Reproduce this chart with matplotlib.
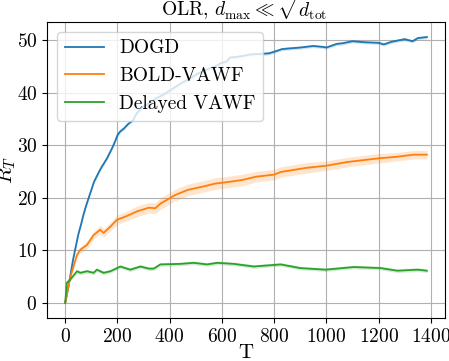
import matplotlib
matplotlib.use("Agg")
import numpy as np
import matplotlib.pyplot as plt

plt.rcParams["font.family"] = "serif"
plt.rcParams["font.serif"] = ["cmr10"]
plt.rcParams["mathtext.fontset"] = "cm"
plt.rcParams["axes.formatter.use_mathtext"] = True

# Values
dogd_t = [0, 10, 20, 30, 40, 50, 60, 70, 80, 90, 100, 110, 120, 130, 140, 150, 160, 170,
          180, 190, 200, 210, 225, 240, 260, 275, 300, 325, 350, 375, 400, 425, 450, 475,
          505, 530, 550, 575, 595, 620, 630, 652, 680, 710, 750, 780, 800, 830, 850, 900,
          950, 990, 1000, 1040, 1060, 1100, 1150, 1200, 1220, 1250, 1280, 1300, 1330,
          1350, 1385]
dogd_v = [0, 2.5, 5.3, 8.2, 10.6, 13.0, 14.8, 16.8, 18.5, 20.0, 21.5, 23.0, 24.0, 25.0,
          25.9, 26.7, 27.5, 28.5, 29.5, 30.6, 31.9, 32.6, 33.2, 34.0, 34.8, 36.2, 37.4,
          38.1, 39.0, 39.6, 40.4, 41.2, 42.0, 42.6, 43.6, 44.1, 44.6, 45.0, 45.6, 46.0,
          46.7, 46.8, 47.0, 47.3, 47.4, 47.5, 47.8, 48.3, 48.4, 48.6, 48.9, 48.7, 48.6,
          49.3, 49.4, 49.8, 49.6, 49.5, 49.2, 49.7, 50.0, 50.2, 49.8, 50.4, 50.6]
dogd_err = 0.3

bold_t = [0, 20, 45, 58, 83, 109, 134, 147, 173, 198, 230, 275, 320, 345, 365, 400, 420,
          470, 525, 575, 625, 680, 730, 800, 825, 925, 1000, 1080, 1200, 1270, 1335, 1385]
bold_v = [0, 5.0, 9.1, 10.1, 11.0, 12.9, 13.9, 13.3, 14.5, 15.8, 16.4, 17.4, 18.1, 18.0,
          18.9, 19.9, 20.5, 21.5, 22.1, 22.7, 23.0, 23.4, 24.0, 24.4, 24.9, 25.7, 26.1,
          26.8, 27.5, 27.8, 28.2, 28.2]
bold_err = [0, 0.3, 0.5, 0.6, 0.7, 0.7, 0.8, 0.8, 0.8, 0.9, 0.9, 1.0, 1.0, 1.0, 1.1, 1.1,
            1.1, 1.1, 1.1, 1.1, 1.1, 1.1, 1.0, 1.0, 1.0, 1.0, 0.9, 0.9, 0.9, 0.8, 0.8, 0.8]

vawf_t = [0, 6, 19, 32, 45, 58, 83, 109, 121, 147, 173, 211, 249, 288, 320, 339, 364,
          441, 492, 543, 582, 646, 722, 825, 900, 997, 1105, 1208, 1272, 1349, 1385]
vawf_v = [0, 3.8, 4.4, 5.2, 6.0, 5.7, 6.0, 5.7, 6.3, 5.7, 6.0, 6.9, 6.3, 6.9, 6.5, 6.5,
          7.3, 7.4, 7.6, 7.3, 7.6, 7.4, 6.9, 7.3, 6.6, 6.3, 6.8, 6.6, 6.1, 6.3, 6.1]
vawf_err = 0.35

fig = plt.figure(figsize=(4.49, 3.61), dpi=100)
ax = fig.add_axes([0.105, 0.119, 0.886, 0.820])

series = [
    ("DOGD", dogd_t, dogd_v, dogd_err, "tab:blue"),
    ("BOLD-VAWF", bold_t, bold_v, bold_err, "tab:orange"),
    ("Delayed VAWF", vawf_t, vawf_v, vawf_err, "tab:green"),
]
for name, t, v, err, col in series:
    v = np.array(v)
    err = np.array(err)
    ax.plot(t, v, color=col, lw=1.3, label=name)
    ax.fill_between(t, v - err, v + err, color=col, alpha=0.2, lw=0)

ax.grid(True, color="#b0b0b0", lw=0.8)
ax.set_axisbelow(True)
ax.set_xticks([0, 200, 400, 600, 800, 1000, 1200, 1400])
ax.set_yticks([0, 10, 20, 30, 40, 50])
ax.tick_params(labelsize=14)
ax.set_xlabel("T", fontsize=15, labelpad=-1.5)
ax.set_ylabel("$R_T$", fontsize=15, labelpad=-1)
ax.set_title(r"OLR, $d_{\max} \ll \sqrt{d_{\mathrm{tot}}}$", fontsize=14, pad=3)
ax.legend(loc="upper left", fontsize=14)

fig.savefig("out.png", dpi=100)
